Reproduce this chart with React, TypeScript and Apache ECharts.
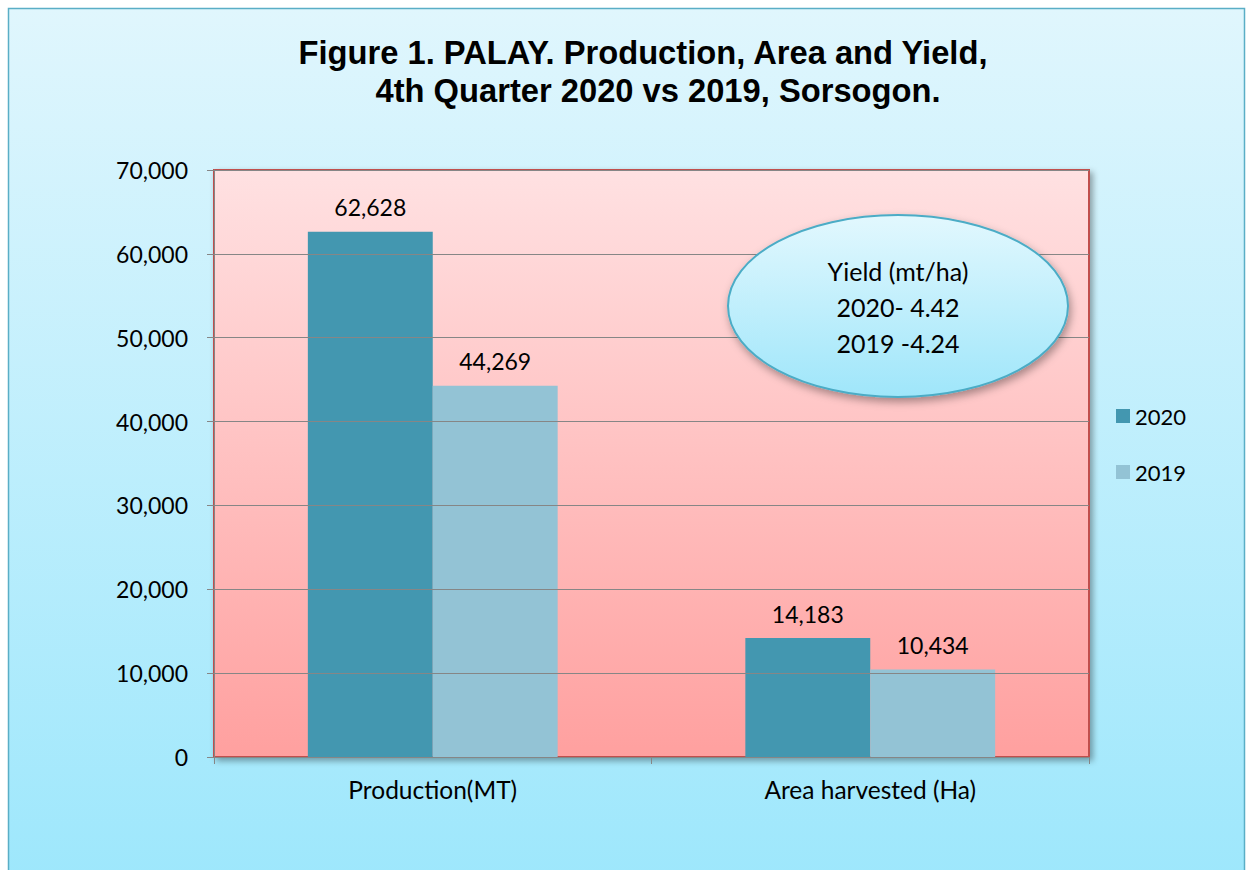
import React, { useEffect, useRef } from "react";
import * as echarts from "echarts";

const categories = ["Production(MT)", "Area harvested (Ha)"];
const seriesNames = ["2020", "2019"];
const values2020 = [62628, 14183];
const values2019 = [44269, 10434];
const yMin = 0;
const yMax = 70000;
const yInterval = 10000;
const titleLines = [
  "Figure 1. PALAY. Production, Area and Yield,",
  "4th Quarter 2020 vs 2019, Sorsogon.",
];
const yieldLines = ["Yield (mt/ha)", "2020- 4.42", "2019 -4.24"];

const BODY_FONT = "Lato, 'Open Sans', sans-serif";
const TITLE_FONT = "'Liberation Sans', Arial, sans-serif";

export default function App() {
  const ref = useRef<HTMLDivElement>(null);

  useEffect(() => {
    if (!ref.current) return;
    const chart = echarts.init(ref.current, undefined, { renderer: "svg" });

    const fmt = (v: number) => Number(v).toLocaleString("en-US");

    const labelOpt = {
      show: true,
      position: "top",
      distance: 13,
      fontSize: 23,
      fontFamily: BODY_FONT,
      color: "#000",
      formatter: (p: any) => fmt(p.value),
    };

    chart.setOption({
      animation: false,
      backgroundColor: "#ffffff",
      grid: {
        left: 214,
        top: 170,
        right: 157,
        bottom: 113,
        show: true,
        backgroundColor: new echarts.graphic.LinearGradient(0, 0, 0, 1, [
          { offset: 0, color: "#ffe1e2" },
          { offset: 1, color: "#ffa09f" },
        ]),
        borderColor: "#c0504d",
        borderWidth: 2,
        shadowBlur: 6,
        shadowColor: "rgba(0,0,0,0.35)",
        shadowOffsetX: 3,
        shadowOffsetY: 3,
      },
      legend: {
        orient: "vertical",
        left: 1116,
        top: 405,
        padding: 0,
        itemWidth: 14,
        itemHeight: 14,
        itemGap: 34,
        icon: "rect",
        data: seriesNames,
        textStyle: { fontSize: 22, fontFamily: BODY_FONT, color: "#000" },
      },
      xAxis: {
        type: "category",
        data: categories,
        axisLine: { show: true, lineStyle: { color: "#868686", width: 1 } },
        axisTick: { show: true, length: 7, lineStyle: { color: "#868686" } },
        axisLabel: {
          margin: 20,
          fontSize: 24.5,
          fontFamily: BODY_FONT,
          color: "#000",
        },
        z: 5,
      },
      yAxis: {
        type: "value",
        min: yMin,
        max: yMax,
        interval: yInterval,
        axisLine: { show: true, lineStyle: { color: "#868686", width: 1 } },
        axisTick: { show: true, length: 7, lineStyle: { color: "#868686" } },
        splitLine: { show: true, lineStyle: { color: "#868686", width: 1 } },
        axisLabel: {
          margin: 26,
          fontSize: 23,
          fontFamily: BODY_FONT,
          color: "#000",
          formatter: (v: number) => fmt(v),
        },
        z: 5,
      },
      series: [
        {
          name: seriesNames[0],
          type: "bar",
          data: values2020,
          barGap: "0%",
          barCategoryGap: "42.9%",
          itemStyle: { color: "#4397b0" },
          label: labelOpt,
        },
        {
          name: seriesNames[1],
          type: "bar",
          data: values2019,
          barGap: "0%",
          barCategoryGap: "42.9%",
          itemStyle: { color: "#93c3d5" },
          label: labelOpt,
        },
      ],
      graphic: [
        {
          type: "rect",
          z: -10,
          silent: true,
          shape: { x: 8.5, y: 8.5, width: 1236, height: 880 },
          style: {
            fill: new echarts.graphic.LinearGradient(0, 0, 0, 1, [
              { offset: 0, color: "#e0f6fd" },
              { offset: 1, color: "#9de7fc" },
            ]),
            stroke: "#5aaec6",
            lineWidth: 1.5,
          },
        },
        {
          type: "text",
          x: 643,
          y: 52,
          z: 20,
          style: {
            text: titleLines[0],
            textAlign: "center",
            textVerticalAlign: "middle",
            fontSize: 32.7,
            fontWeight: "bold",
            fontFamily: TITLE_FONT,
            fill: "#000",
          },
        },
        {
          type: "text",
          x: 658,
          y: 90,
          z: 20,
          style: {
            text: titleLines[1],
            textAlign: "center",
            textVerticalAlign: "middle",
            fontSize: 32.7,
            fontWeight: "bold",
            fontFamily: TITLE_FONT,
            fill: "#000",
          },
        },
        {
          type: "ellipse",
          z: 20,
          shape: { cx: 898, cy: 306, rx: 170, ry: 91 },
          style: {
            fill: new echarts.graphic.LinearGradient(0, 0, 0, 1, [
              { offset: 0, color: "#e2f8fe" },
              { offset: 1, color: "#9fe6fa" },
            ]),
            stroke: "#4bacc6",
            lineWidth: 2,
            shadowBlur: 8,
            shadowOffsetX: 2,
            shadowOffsetY: 4,
            shadowColor: "rgba(0,0,0,0.35)",
          },
        },
        {
          type: "text",
          x: 898,
          y: 307,
          z: 21,
          style: {
            text: yieldLines.join("\n"),
            textAlign: "center",
            textVerticalAlign: "middle",
            fontSize: 25,
            lineHeight: 36,
            fontFamily: BODY_FONT,
            fill: "#000",
          },
        },
      ],
    });

    return () => {
      chart.dispose();
    };
  }, []);

  return (
    <div
      ref={ref}
      style={{
        position: "fixed",
        left: 0,
        top: 0,
        width: 1246,
        height: 870,
      }}
    />
  );
}
